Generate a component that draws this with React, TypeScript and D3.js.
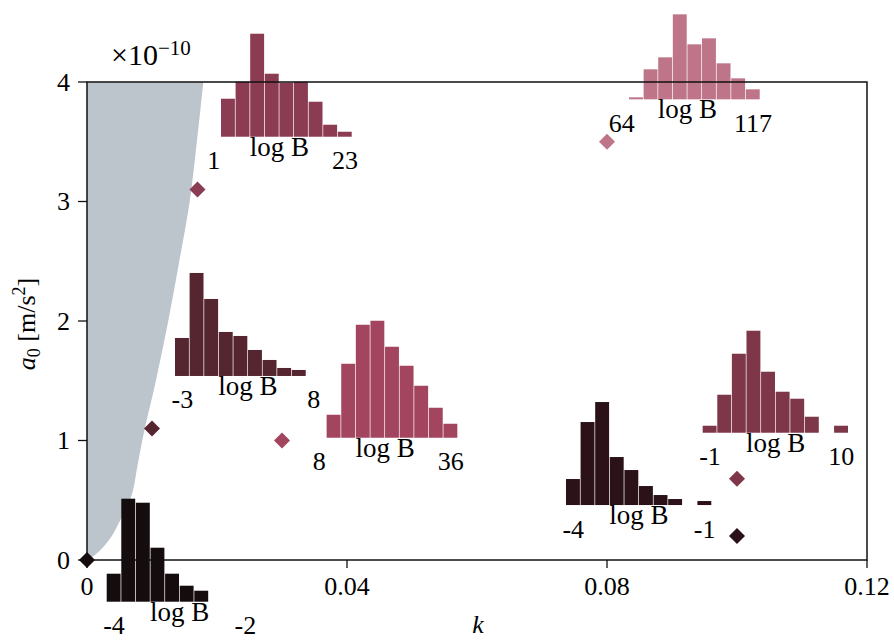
import React from 'react';
import * as d3 from 'd3';

const width = 894;
const height = 640;
const margin = { top: 82, right: 27, bottom: 80, left: 87 };

// main points: k, a0 (x 1e-10 m/s^2)
const modelIds = ['m0', 'm1', 'm2', 'm3', 'm4', 'm5', 'm6'];
const kValues = [0, 0.017, 0.01, 0.03, 0.08, 0.1, 0.1];
const a0Values = [0, 3.1, 1.1, 1.0, 3.5, 0.68, 0.2];

// log B posterior histograms (10 bins from lo to hi)
const logBLo = [-4, 1, -3, 8, 64, -1, -4];
const logBHi = [-2, 23, 8, 36, 117, 10, -1];
const logBCounts = [
  [28, 103, 99, 54, 28, 16, 11, 0, 0, 0],
  [0, 38, 55, 103, 63, 54, 55, 35, 12, 5],
  [38, 103, 77, 44, 40, 26, 16, 8, 6, 0],
  [0, 23, 74, 113, 117, 91, 72, 52, 30, 14],
  [0, 2, 30, 42, 85, 55, 61, 36, 21, 10],
  [7, 38, 79, 102, 61, 41, 34, 16, 0, 7],
  [26, 83, 103, 48, 35, 19, 10, 6, 0, 4],
];

// excluded region boundary (k, a0)
const boundaryK = [0, 0.0009, 0.003, 0.0051, 0.0066, 0.0078, 0.0085, 0.0106, 0.0125, 0.0142, 0.0158, 0.0169, 0.0179];
const boundaryA0 = [0, 0.03, 0.14, 0.33, 0.5, 0.8, 1.0, 1.5, 2.0, 2.5, 3.0, 3.5, 4.0];

const xTicks = [0, 0.04, 0.08, 0.12];
const yTicks = [0, 1, 2, 3, 4];

// layout: where each inset sits (left edge k, baseline a0)
const insetLeftK = [0.00303, 0.01837, 0.01354, 0.03462, 0.08114, 0.09472, 0.07369];
const insetBaseA0 = [-0.349, 3.542, 1.54, 1.023, 3.855, 1.065, 0.46];

const palette = ['#140c0d', '#8c3c52', '#552530', '#a3455f', '#bf7589', '#7e3649', '#2b1218'];

const insetWidth = 146;
const font = '"Liberation Serif", "DejaVu Serif", serif';

const Inset = ({ i, left, base, color }) => {
  const lo = logBLo[i];
  const hi = logBHi[i];
  const counts = logBCounts[i];
  const n = counts.length;
  const step = (hi - lo) / (n - 1);
  const xs = d3.scaleLinear().domain([lo - step / 2, hi + step / 2]).range([0, insetWidth]);
  const ys = d3.scaleLinear().domain([0, 100]).range([0, 100]);
  return (
    <g transform={`translate(${left},${base})`}>
      {counts.map((c, j) => {
        if (!c) return null;
        const x0 = xs(lo - step / 2 + j * step);
        const x1 = xs(lo - step / 2 + (j + 1) * step);
        return <rect key={j} x={x0} y={-ys(c)} width={x1 - x0 - 0.7} height={ys(c)} fill={color} />;
      })}
      <text x={insetWidth / 2} y={19} textAnchor="middle" fontSize={27}>log B</text>
      <text x={xs(lo)} y={32.5} textAnchor="middle" fontSize={26}>{lo}</text>
      <text x={xs(hi)} y={32.5} textAnchor="middle" fontSize={26}>{hi}</text>
    </g>
  );
};

export default function App() {
  const innerW = width - margin.left - margin.right;
  const innerH = height - margin.top - margin.bottom;
  const x = d3.scaleLinear().domain([0, 0.12]).range([margin.left, margin.left + innerW]);
  const y = d3.scaleLinear().domain([0, 4]).range([margin.top + innerH, margin.top]);
  const color = d3.scaleOrdinal().domain(modelIds).range(palette);

  const area = d3.area()
    .y(d => y(d[1]))
    .x0(x(0))
    .x1(d => x(d[0]))
    .curve(d3.curveMonotoneY);
  const boundary = boundaryK.map((k, i) => [k, boundaryA0[i]]);

  const diamond = d3.symbol(d3.symbolSquare, 128)();

  return (
    <svg width={width} height={height} style={{ position: 'absolute', left: 0, top: 0 }} fontFamily={font}>
      <defs>
        <clipPath id="plot">
          <rect x={margin.left} y={margin.top} width={innerW} height={innerH} />
        </clipPath>
      </defs>
      <path d={area(boundary)} fill="#bcc4cc" clipPath="url(#plot)" />

      {modelIds.map((id, i) => (
        <Inset key={id} i={i} left={x(insetLeftK[i])} base={y(insetBaseA0[i])} color={color(id)} />
      ))}

      <rect x={margin.left} y={margin.top} width={innerW} height={innerH} fill="none" stroke="#111" strokeWidth={1.5} />

      {xTicks.map(t => (
        <g key={t} transform={`translate(${x(t)},0)`}>
          <line y1={y(0)} y2={y(0) + 8} stroke="#111" strokeWidth={1.3} />
          <text y={595} textAnchor="middle" fontSize={26}>{t}</text>
        </g>
      ))}
      {yTicks.map(t => (
        <g key={t} transform={`translate(0,${y(t)})`}>
          <line x1={margin.left - 9} x2={margin.left} stroke="#111" strokeWidth={1.3} />
          <text x={70} dy="0.34em" textAnchor="end" fontSize={26}>{t}</text>
        </g>
      ))}

      {modelIds.map((id, i) => (
        <path key={id} d={diamond} fill={color(id)}
          transform={`translate(${x(kValues[i])},${y(a0Values[i])}) rotate(45)`} />
      ))}

      <text x={111} y={65} fontSize={30}>
        ×10<tspan dy={-10} fontSize={21}>−10</tspan>
      </text>
      <text x={478} y={633} textAnchor="middle" fontSize={26} fontStyle="italic">k</text>
      <text transform="translate(35,324) rotate(-90)" textAnchor="middle" fontSize={26}>
        <tspan fontStyle="italic">a</tspan>
        <tspan fontSize={18} dy={5}>0</tspan>
        <tspan dy={-5}> [m/s</tspan>
        <tspan fontSize={18} dy={-10}>2</tspan>
        <tspan dy={10}>]</tspan>
      </text>
    </svg>
  );
}
